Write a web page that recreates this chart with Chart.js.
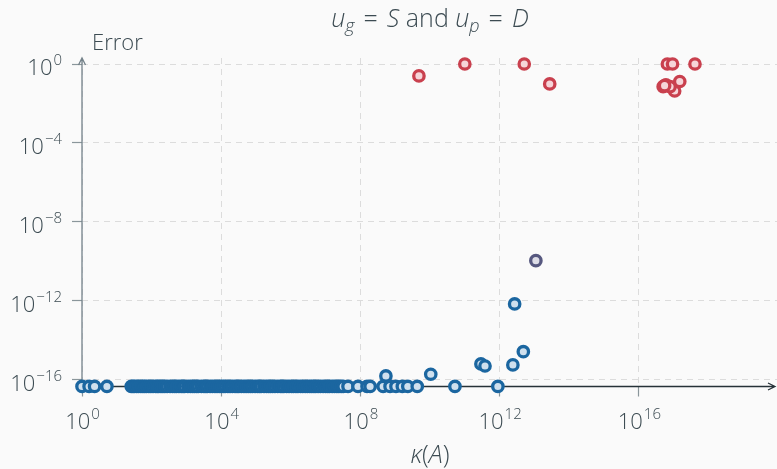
<!DOCTYPE html>
<html lang="en">
<head>
<meta charset="UTF-8">
<title>Error vs condition number</title>
<script src="https://cdn.jsdelivr.net/npm/chart.js"></script>
<style>
  body { margin: 0; background: #fafafa; }
  .wrap { width: 777px; height: 469px; position: relative; }
</style>
</head>
<body>
<div class="wrap"><canvas id="errChart"></canvas></div>
<script>
// error floor: results that hit machine precision sit on the x axis
const FLOOR = 4.7e-17;

// condition numbers of the runs that reached the floor (blue)
const floorKappa = [
  1, 1.6, 2.3, 5.2,
  2.6e1, 2.9e1, 3.2e1, 3.7e1, 4.2e1, 4.9e1, 5.6e1, 6.3e1, 7.1e1, 8.3e1,
  9.5e1, 1.1e2, 1.3e2, 1.45e2, 1.6e2, 1.85e2, 2.1e2, 2.4e2, 2.8e2, 3.4e2,
  4.0e2, 4.6e2, 5.2e2, 6.1e2, 7.1e2, 8.0e2, 8.9e2, 1.1e3, 1.3e3, 1.5e3,
  1.7e3, 1.95e3, 2.2e3, 2.7e3, 3.2e3, 3.6e3, 4.0e3, 4.8e3, 5.6e3, 6.6e3,
  7.6e3, 8.8e3, 1.0e4, 1.15e4, 1.3e4, 1.55e4, 1.8e4, 2.1e4, 2.5e4, 2.85e4,
  3.2e4, 3.8e4, 4.5e4, 5.2e4, 6.0e4, 6.9e4, 7.9e4, 9.4e4, 1.1e5, 1.25e5,
  1.4e5, 1.7e5, 2.0e5, 2.3e5, 2.6e5, 3.0e5, 3.5e5, 4.2e5, 5.0e5, 5.6e5,
  6.3e5, 7.6e5, 8.9e5, 1.05e6, 1.2e6, 1.4e6, 1.6e6, 1.9e6, 2.2e6, 2.6e6,
  3.0e6, 3.5e6, 4.0e6, 4.6e6, 5.2e6, 6.1e6, 7.1e6, 8.5e6, 1.0e7, 1.15e7,
  1.3e7, 1.55e7, 1.8e7, 2.1e7, 2.4e7, 2.8e7, 3.2e7,
  4.4e7, 8.5e7, 1.55e8, 1.9e8, 4.5e8, 7.1e8, 1.05e9, 1.6e9, 2.3e9, 4.3e9,
  5.2e10, 8.9e11
];

// well-conditioned runs just above the floor (blue)
const blueKappa = [5.4e8, 1.05e10, 2.9e11, 3.8e11, 2.4e12, 4.8e12, 2.7e12];
const blueError = [1.6e-16, 1.95e-16, 6.5e-16, 5.1e-16, 5.8e-16, 2.7e-15, 7.1e-13];

// transition run (purple)
const midKappa = [1.1e13];
const midError = [1.1e-10];

// failed runs (red)
const redKappa = [4.8e9, 1.0e11, 5.1e12, 2.75e13, 6.6e16, 9.3e16, 4.1e17,
                  5.0e16, 6.0e16, 1.5e17, 1.07e17, 7.9e16, 5.5e16];
const redError = [0.25, 1.0, 1.0, 0.098, 1.0, 1.0, 1.0,
                  0.071, 0.087, 0.13, 0.043, 0.071, 0.08];

// decade exponents that get a labelled tick
const xTickExp = [0, 4, 8, 12, 16];
const yTickExp = [-16, -12, -8, -4, 0];

const TEXT = '#3c4b52';
const FONT = "'Open Sans', 'Noto Sans', sans-serif";

const toPoints = (xs, ys) => xs.map((x, i) => ({ x: x, y: ys[i] }));

function powLabel(ctx, exp, x, y, align) {
  const base = '10';
  const sup = exp < 0 ? '\u2212' + Math.abs(exp) : String(exp);
  ctx.font = '300 22px ' + FONT;
  const wb = ctx.measureText(base).width;
  ctx.font = '300 15px ' + FONT;
  const ws = ctx.measureText(sup).width;
  let left = align === 'center' ? x - (wb + ws) / 2 : x - wb - ws;
  ctx.textAlign = 'left';
  ctx.textBaseline = 'alphabetic';
  ctx.font = '300 22px ' + FONT;
  ctx.fillText(base, left, y);
  ctx.font = '300 15px ' + FONT;
  ctx.fillText(sup, left + wb + 1, y - 10);
}

// draw a run of normal / italic / subscript pieces centred on x
function mathText(ctx, parts, cx, y, size) {
  const fontOf = p => (p.it ? 'italic ' : '') + '300 ' + (p.sub ? Math.round(size * 0.7) : size) + 'px ' + FONT;
  let total = 0;
  parts.forEach(p => {
    ctx.font = fontOf(p);
    p.w = ctx.measureText(p.t).width + (p.gap || 0) * 2;
    total += p.w;
  });
  let x = cx - total / 2;
  ctx.textAlign = 'left';
  ctx.textBaseline = 'alphabetic';
  parts.forEach(p => {
    ctx.font = fontOf(p);
    ctx.fillText(p.t, x + (p.gap || 0), p.sub ? y + 5 : y);
    x += p.w;
  });
}

const axesPlugin = {
  id: 'axesDecor',
  beforeDatasetsDraw(chart) {
    const { ctx, chartArea: a } = chart;
    ctx.save();
    // y axis
    ctx.strokeStyle = '#74828a';
    ctx.lineWidth = 1.3;
    ctx.beginPath();
    ctx.moveTo(a.left, a.bottom);
    ctx.lineTo(a.left, a.top);
    ctx.moveTo(a.left - 3.5, a.top + 7);
    ctx.lineTo(a.left, a.top);
    ctx.lineTo(a.left + 3.5, a.top + 7);
    ctx.stroke();
    // x axis
    ctx.strokeStyle = '#263238';
    ctx.beginPath();
    ctx.moveTo(a.left, a.bottom);
    ctx.lineTo(a.right - 2, a.bottom);
    ctx.moveTo(a.right - 9, a.bottom - 3.5);
    ctx.lineTo(a.right - 2, a.bottom);
    ctx.lineTo(a.right - 9, a.bottom + 3.5);
    ctx.stroke();
    ctx.restore();
  },
  afterDraw(chart) {
    const { ctx, scales } = chart;
    ctx.save();
    ctx.fillStyle = TEXT;
    xTickExp.forEach(e => powLabel(ctx, e, scales.x.getPixelForValue(Math.pow(10, e)), 429, 'center'));
    yTickExp.forEach(e => powLabel(ctx, e, 61, scales.y.getPixelForValue(Math.pow(10, e)) + 11, 'right'));

    const cx = 430;
    mathText(ctx, [
      { t: 'u', it: true }, { t: 'g', it: true, sub: true }, { t: '=', gap: 9 }, { t: 'S', it: true },
      { t: ' and ' },
      { t: 'u', it: true }, { t: 'p', it: true, sub: true }, { t: '=', gap: 9 }, { t: 'D', it: true }
    ], cx, 27, 25);

    mathText(ctx, [{ t: '\u03BA', it: true }, { t: '(' }, { t: 'A', it: true }, { t: ')' }], cx, 463, 25);

    ctx.font = '300 22px ' + FONT;
    ctx.textAlign = 'left';
    ctx.fillText('Error', 92, 50);
    ctx.restore();
  }
};

const gridCommon = {
  color: '#dcdcdc',
  lineWidth: 1,
  tickColor: '#8a969b',
  tickLength: 10,
  tickBorderDash: [],
  tickWidth: 1.2
};

const pointStyle = { pointRadius: 5.2, borderWidth: 3.3, clip: false };

new Chart(document.getElementById('errChart'), {
  type: 'scatter',
  data: {
    datasets: [
      Object.assign({
        label: 'floor',
        data: floorKappa.map(k => ({ x: k, y: FLOOR })),
        borderColor: '#1b66a0',
        backgroundColor: '#cfe0ee'
      }, pointStyle),
      Object.assign({
        label: 'ok',
        data: toPoints(blueKappa, blueError),
        borderColor: '#1b66a0',
        backgroundColor: '#cfe0ee'
      }, pointStyle),
      Object.assign({
        label: 'mid',
        data: toPoints(midKappa, midError),
        borderColor: '#56587f',
        backgroundColor: '#dddde7'
      }, pointStyle),
      Object.assign({
        label: 'fail',
        data: toPoints(redKappa, redError),
        borderColor: '#c9404e',
        backgroundColor: '#f6d5d9'
      }, pointStyle)
    ]
  },
  options: {
    responsive: true,
    maintainAspectRatio: false,
    animation: false,
    layout: { autoPadding: false, padding: { left: 82, right: 0, top: 58, bottom: 82.5 } },
    plugins: { legend: { display: false }, tooltip: { enabled: false }, title: { display: false } },
    scales: {
      x: {
        type: 'logarithmic',
        min: 1,
        max: Math.pow(10, 19.97),
        afterBuildTicks: s => { s.ticks = xTickExp.map(e => ({ value: Math.pow(10, e) })); },
        afterFit: s => { s.height = 0; },
        ticks: { display: false },
        grid: gridCommon,
        border: { display: false, dash: [6, 5] }
      },
      y: {
        type: 'logarithmic',
        min: Math.pow(10, -16.33),
        max: Math.pow(10, 0.304),
        afterBuildTicks: s => { s.ticks = yTickExp.map(e => ({ value: Math.pow(10, e) })); },
        afterFit: s => { s.width = 0; },
        ticks: { display: false },
        grid: gridCommon,
        border: { display: false, dash: [6, 5] }
      }
    }
  },
  plugins: [axesPlugin]
});
</script>
</body>
</html>
